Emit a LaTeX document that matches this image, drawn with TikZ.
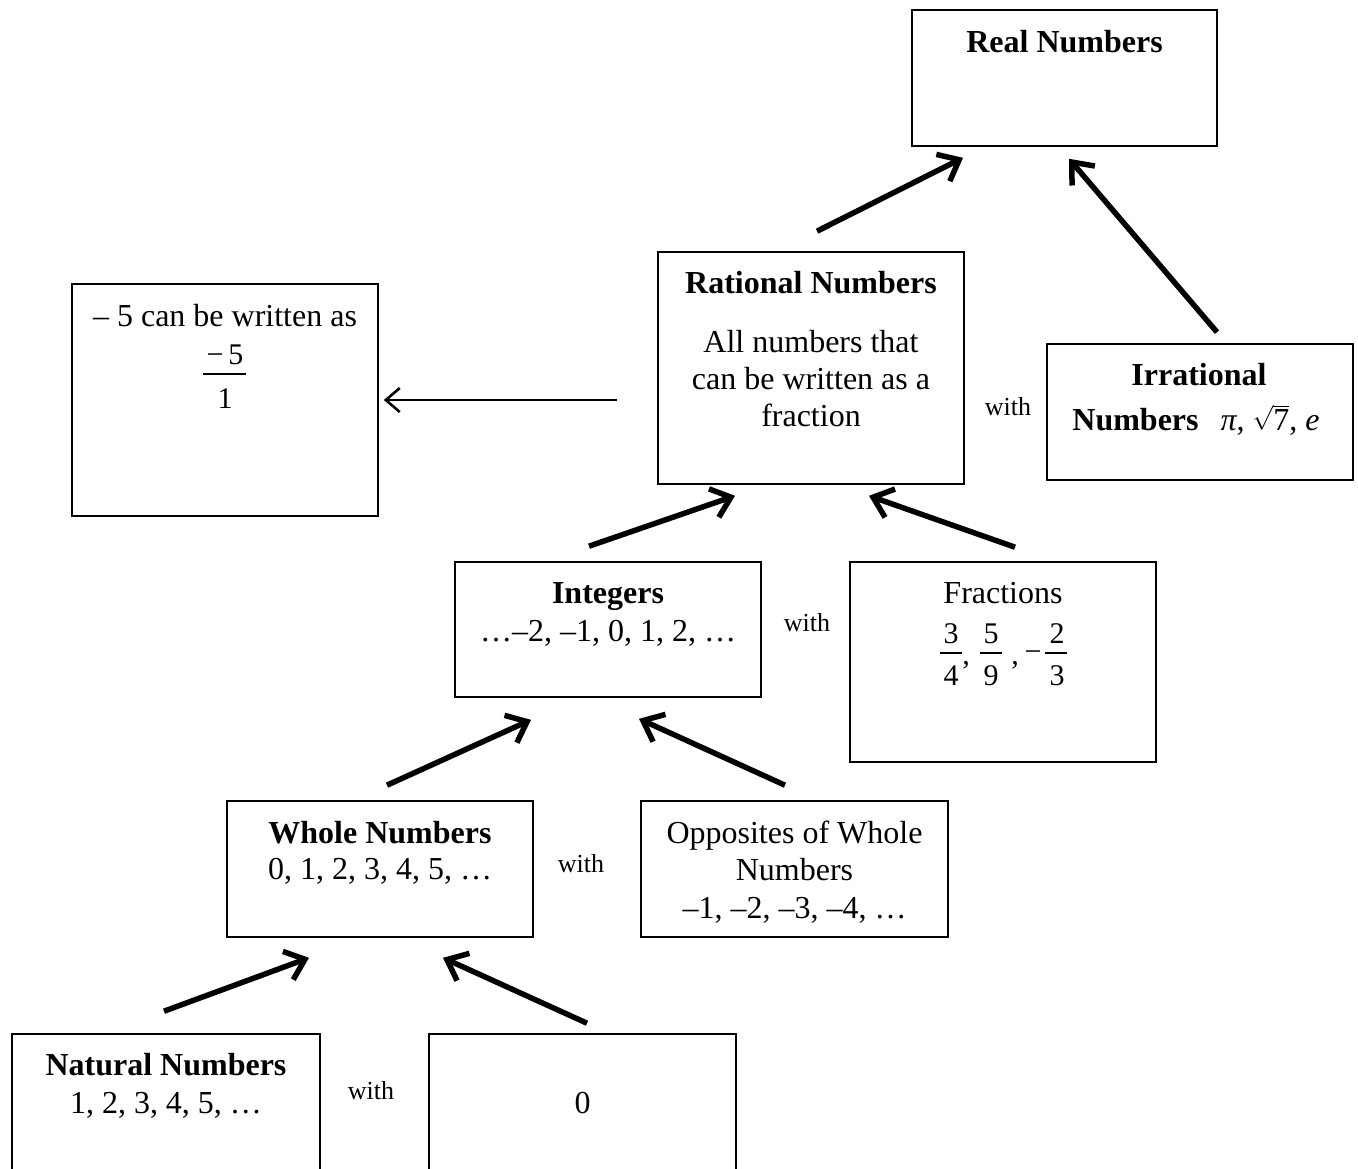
\documentclass[tikz,border=0pt]{standalone}
\usepackage{exscale}
\usepackage{fontspec}
\setmainfont{Liberation Serif}
\usetikzlibrary{arrows.meta,calc}
\begin{document}
\begin{tikzpicture}[x=1pt,y=-1pt,
  box/.style={draw, line width=1.6pt, inner sep=0pt, minimum width=306pt, minimum height=136pt},
  txt/.style={anchor=base, inner sep=0pt, font=\fontsize{32}{36}\selectfont},
  btxt/.style={anchor=base, inner sep=0pt, font=\fontsize{32}{36}\selectfont\bfseries},
  ftxt/.style={anchor=base, inner sep=0pt, font=\fontsize{30}{34}\selectfont},
  withlbl/.style={anchor=base, inner sep=0pt, font=\fontsize{26}{30}\selectfont},
  bararrow/.style={line width=5.5pt, -{Straight Barb[length=18pt,width=30pt]}},
  thinarrow/.style={line width=2.6pt, -{Straight Barb[length=14pt,width=24pt]}},
  fracbar/.style={line width=1.3pt}
]
\useasboundingbox (0,0) rectangle (1358,1168);
\clip (0,0) rectangle (1358,1168);

% boxes
\node[box, minimum width=305pt] (real) at (1064.5,78) {};
\node[box, minimum height=232pt] (rat) at (811,368) {};
\node[box, minimum height=232pt] (neg) at (225,400) {};
\node[box] (irr) at (1200,412) {};
\node[box, minimum height=135pt] (int) at (608,629.5) {};
\node[box, minimum height=200pt] (frac) at (1003,662) {};
\node[box] (whole) at (380,869) {};
\node[box, minimum width=307pt] (opp) at (794.5,869) {};
\node[box, minimum width=308pt, minimum height=170pt] (nat) at (166,1119) {};
\node[box, minimum width=307pt, minimum height=170pt] (zero) at (582.5,1119) {};

% texts
\node[btxt] (realT) at (1064.5,52) {Real Numbers};

\node[btxt] (ratT) at (811,293) {Rational Numbers};
\node[txt] (ratA) at (811,352) {All numbers that};
\node[txt] (ratB) at (811,389) {can be written as a};
\node[txt] (ratC) at (811,426) {fraction};

\node[txt] (negA) at (225,326) {– 5 can be written as};
\node[ftxt] (negN) at (225,364) {−\,5};
\draw[fracbar] (203,374) -- (246,374);
\node[ftxt] (negD) at (225,408) {1};

\node[withlbl] (w1) at (1008,415) {with};

\node[btxt] (irrT) at (1199,385) {Irrational};
\node[txt] (irrB) at (1196,430) {\textbf{Numbers}\hspace{22pt}\textit{π}, $\sqrt{\hbox{7}}$, \textit{e}};

\node[btxt] (intT) at (608,603) {Integers};
\node[txt] (intB) at (608,641) {…–2, –1, 0, 1, 2, …};

\node[withlbl] (w2) at (807,631) {with};

\node[txt] (fracT) at (1003,603) {Fractions};
\node[ftxt] (f1n) at (951,643) {3};
\draw[fracbar] (940,653) -- (962,653);
\node[ftxt] (f1d) at (951,685) {4};
\node[ftxt] (c1) at (966,664) {,};
\node[ftxt] (f2n) at (991,643) {5};
\draw[fracbar] (980,653) -- (1002,653);
\node[ftxt] (f2d) at (991,685) {9};
\node[ftxt] (c2) at (1015,664) {,};
\node[ftxt] (mn) at (1033,661) {−};
\node[ftxt] (f3n) at (1057,643) {2};
\draw[fracbar] (1045,653) -- (1067,653);
\node[ftxt] (f3d) at (1057,685) {3};

\node[btxt] (wholeT) at (380,843) {Whole Numbers};
\node[txt] (wholeB) at (380,879) {0, 1, 2, 3, 4, 5, …};

\node[withlbl] (w3) at (581,872) {with};

\node[txt] (oppA) at (794.5,843) {Opposites of Whole};
\node[txt] (oppB) at (794.5,880) {Numbers};
\node[txt] (oppC) at (794.5,918) {–1, –2, –3, –4, …};

\node[btxt] (natT) at (166,1075) {Natural Numbers};
\node[txt] (natB) at (166,1113) {1, 2, 3, 4, 5, …};

\node[withlbl] (w4) at (371,1099) {with};

\node[txt] (zeroT) at (582.5,1113) {0};

% connectors
\draw[bararrow] ($(rat.north)+(6,-20)$) -- ($(real.south)+(-101.5,11)$);
\draw[bararrow] ($(irr.north)+(17,-11)$) -- ($(real.south)+(4.5,12)$);
\draw[thinarrow] ($(rat.west)+(-40,32)$) -- ($(neg.east)+(5,0)$);
\draw[bararrow] ($(int.north)+(-19,-15)$) -- ($(rat.south)+(-76,11)$);
\draw[bararrow] ($(frac.north)+(12,-14)$) -- ($(rat.south)+(58,11)$);
\draw[bararrow] ($(whole.north)+(7,-15)$) -- ($(int.south)+(-77,22)$);
\draw[bararrow] ($(opp.north)+(-9.5,-15)$) -- ($(int.south)+(31,21)$);
\draw[bararrow] ($(nat.north)+(-2,-22)$) -- ($(whole.south)+(-71,20)$);
\draw[bararrow] ($(zero.north)+(4.5,-10)$) -- ($(whole.south)+(63,20)$);
\end{tikzpicture}
\end{document}
